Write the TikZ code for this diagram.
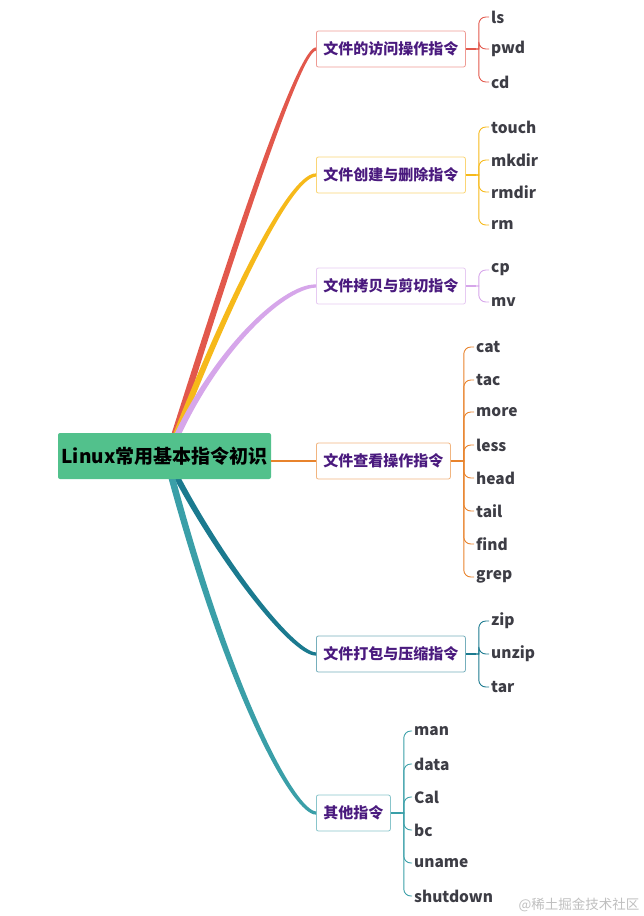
\documentclass[tikz,border=0pt]{standalone}
\usepackage{fontspec}
\setmainfont{Noto Sans CJK SC}
\usepackage{xcolor}
\usepackage{tikz}
\usetikzlibrary{calc, positioning}

\definecolor{rootgreen}{RGB}{82,193,140}
\definecolor{cRed}{RGB}{226,88,76}
\definecolor{cYel}{RGB}{246,185,26}
\definecolor{cLav}{RGB}{214,166,234}
\definecolor{cOra}{RGB}{232,131,44}
\definecolor{cDeep}{RGB}{27,122,143}
\definecolor{cTeal}{RGB}{58,159,168}
\definecolor{topic}{RGB}{74,26,126}
\definecolor{leafgray}{RGB}{61,61,69}

\tikzset{
  rootbox/.style={fill=rootgreen, rounded corners=2, minimum width=213, minimum height=46,
    inner sep=0, font=\fontsize{19}{22}\selectfont\bfseries, text=black},
  topicbox/.style={draw=#1!60, fill=white, rounded corners=2, line width=0.8, minimum height=36,
    inner xsep=7, anchor=west, font=\fontsize{15}{18}\selectfont\bfseries, text=topic},
  leaf/.style={anchor=west, inner sep=2, font=\fontsize{15.5}{18}\selectfont\bfseries, text=leafgray},
}

% tapered branch: colour, from, ctrl 1, ctrl 2, to, (1 up / -1 down)
\newcommand{\bough}[6]{%
  \fill[#1] let \p1=(#2), \p3=(#3), \p4=(#4), \p2=(#5) in
    (\x1-3.5pt,\y1) .. controls (\x3-3pt,\y3) and (\x4-1.5pt,\y4+#6*2.5pt) .. (\x2,\y2+#6*1.6pt)
    -- (\x2,\y2-#6*1.6pt) .. controls (\x4+1.5pt,\y4-#6*2.5pt) and (\x3+3pt,\y3) .. (\x1+3.5pt,\y1) -- cycle;}

\begin{document}
\begin{tikzpicture}[x=1pt, y=-1pt]
\useasboundingbox (0,0) rectangle (644,916);

% Topics
\node[topicbox=cRed] (acc) at (316,49) {文件的访问操作指令};
\node[topicbox=cYel] (mk) at (316,175) {文件创建与删除指令};
\node[topicbox=cLav] (cpy) at (316,286) {文件拷贝与剪切指令};
\node[topicbox=cOra] (view) at (316,461) {文件查看操作指令};
\node[topicbox=cDeep] (pack) at (316,654) {文件打包与压缩指令};
\node[topicbox=cTeal] (misc) at (316,813) {其他指令};

% Branches (behind the root)
\coordinate (hubUp) at (168,456);
\coordinate (hubDn) at (166,456);
\bough{cRed}{hubUp}{240,226}{300,49}{acc.west}{1}
\bough{cYel}{hubUp}{220,320}{288,175}{mk.west}{1}
\bough{cLav}{hubUp}{210,355}{282,286}{cpy.west}{1}
\bough{cDeep}{hubDn}{215,555}{292,654}{pack.west}{-1}
\bough{cTeal}{hubDn}{230,700}{295,813}{misc.west}{-1}

% Root
\node[rootbox] (root) at (164.5,456) {Linux常用基本指令初识};
\draw[cOra, line width=1.4] (root.east |- view.west) -- (view.west);

% Leaves
\node[leaf] (ls) at (489,17) {ls};
\node[leaf] (pwd) at (489,49) {pwd};
\node[leaf] (cd) at (489,82) {cd};

\node[leaf] (touch) at (489,127) {touch};
\node[leaf] (mkdir) at (489,160) {mkdir};
\node[leaf] (rmdir) at (489,192) {rmdir};
\node[leaf] (rm) at (489,225) {rm};

\node[leaf] (cp) at (489,270) {cp};
\node[leaf] (mv) at (489,302) {mv};

\node[leaf] (cat) at (474,347) {cat};
\node[leaf] (tac) at (474,380) {tac};
\node[leaf] (more) at (474,412) {more};
\node[leaf] (less) at (474,445) {less};
\node[leaf] (head) at (474,478) {head};
\node[leaf] (tail) at (474,511) {tail};
\node[leaf] (find) at (474,544) {find};
\node[leaf] (grep) at (474,577) {grep};

\node[leaf] (zip) at (489,621) {zip};
\node[leaf] (unzip) at (489,654) {unzip};
\node[leaf] (tar) at (489,687) {tar};

\node[leaf] (man) at (412,731) {man};
\node[leaf] (data) at (412,764) {data};
\node[leaf] (Cal) at (412,797) {Cal};
\node[leaf] (bc) at (412,830) {bc};
\node[leaf] (uname) at (412,863) {uname};
\node[leaf] (shutdown) at (412,896) {shutdown};

% Brackets
\foreach \t/\c/\ls in {acc/cRed/{ls,pwd,cd}, mk/cYel/{touch,mkdir,rmdir,rm}, cpy/cLav/{cp,mv},
    view/cOra/{cat,tac,more,less,head,tail,find,grep}, pack/cDeep/{zip,unzip,tar},
    misc/cTeal/{man,data,Cal,bc,uname,shutdown}} {
  \draw[\c, line width=1.8] (\t.east) -- ++(10,0) coordinate (\t J);
  \foreach \l in \ls
    \draw[\c, line width=0.9] (\t J) -- ++(3,0) [rounded corners=7] |- (\l.west);
}

\node[text=gray!50, font=\fontsize{13.5}{15}\selectfont] (mark) at (579,905) {@稀土掘金技术社区};
\end{tikzpicture}
\end{document}
